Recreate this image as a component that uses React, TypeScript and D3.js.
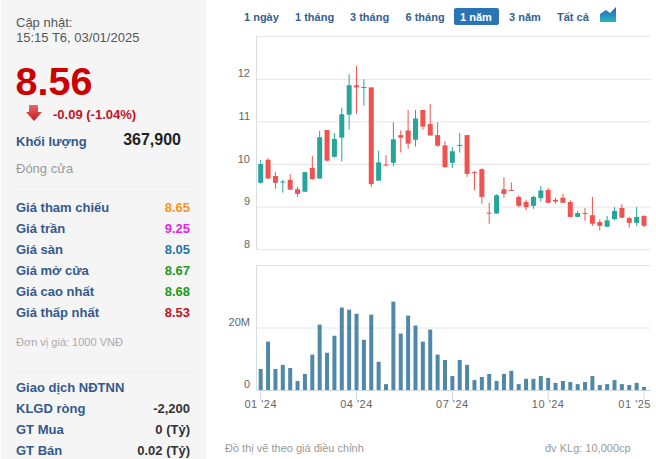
import React from "react";
import * as d3 from "d3";

const opens = [
  9.57, 10.11, 9.73, 9.58, 9.64, 9.42, 9.36, 9.92, 9.67, 10.81, 10.18, 10.63, 11.17,
  11.86, 11.8, 11.81, 9.62, 10.0, 10.04, 10.69, 10.8, 10.58, 11.28, 10.95, 10.69, 10.45,
  10.04, 10.44, 10.69, 9.82, 9.89, 8.87, 8.85, 9.42, 9.4, 9.24, 9.12, 9.03, 9.21,
  9.4, 9.17, 9.22, 9.12, 8.77, 8.86, 8.81, 8.65, 8.54, 8.72, 8.98, 8.74, 8.63, 8.79,
];
const highs = [
  10.11, 10.15, 9.82, 9.64, 9.78, 9.48, 9.82, 10.2, 10.79, 10.81, 10.74, 11.33, 12.12,
  12.31, 12.0, 11.81, 10.32, 10.22, 10.99, 10.8, 11.28, 11.28, 11.28, 11.42, 10.99, 10.55,
  10.41, 10.74, 10.69, 9.85, 9.91, 9.1, 9.3, 9.7, 9.58, 9.28, 9.17, 9.26, 9.5,
  9.45, 9.22, 9.31, 9.16, 8.91, 8.98, 9.24, 8.71, 8.79, 9.0, 9.07, 8.77, 9.0, 8.81,
];
const lows = [
  9.55, 9.66, 9.43, 9.34, 9.41, 9.24, 9.36, 9.64, 9.67, 10.07, 10.16, 10.07, 10.82,
  11.19, 11.38, 9.47, 9.62, 9.96, 9.96, 10.28, 10.37, 10.42, 10.82, 10.68, 10.42, 9.92,
  9.92, 10.28, 9.71, 9.4, 9.08, 8.61, 8.85, 9.22, 9.38, 9.0, 8.92, 8.96, 9.13,
  9.1, 9.08, 9.1, 8.77, 8.77, 8.68, 8.56, 8.45, 8.54, 8.69, 8.75, 8.52, 8.56, 8.53,
];
const closes = [
  10.01, 9.67, 9.57, 9.6, 9.41, 9.31, 9.82, 9.66, 10.64, 10.09, 10.6, 11.18, 11.86,
  11.81, 11.82, 9.54, 10.05, 9.98, 10.59, 10.63, 10.49, 11.08, 10.89, 10.68, 10.44, 9.94,
  10.31, 10.46, 9.78, 9.8, 9.24, 8.85, 9.28, 9.31, 9.38, 9.03, 9.0, 9.24, 9.39,
  9.1, 9.13, 9.1, 8.77, 8.86, 8.84, 8.61, 8.56, 8.69, 8.91, 8.75, 8.63, 8.77, 8.56,
];
const volumes = [
  6.8, 15.6, 6.8, 8.1, 7.1, 2.9, 5.2, 11.4, 21.1, 12.0, 17.5, 26.6, 25.9,
  24.6, 16.2, 24.3, 9.1, 1.9, 28.5, 18.2, 24.0, 20.8, 15.6, 19.5, 11.4, 9.7,
  4.5, 9.7, 8.1, 3.2, 4.2, 5.2, 2.9, 5.2, 6.2, 1.9, 3.6, 3.6, 4.5,
  3.9, 2.3, 2.9, 2.6, 1.9, 2.6, 4.5, 1.6, 1.9, 3.2, 1.9, 1.6, 2.3, 1.0,
];

const priceTicks = [8, 9, 10, 11, 12];
const volumeTicks = [0, 20];
const dateTickWeeks = [0, 13, 26, 39, 52];
const dateTickLabels = ["01 '24", "04 '24", "07 '24", "10 '24", "01 '25"];

const ranges = ["1 ngày", "1 tháng", "3 tháng", "6 tháng", "1 năm", "3 năm", "Tất cả"];
const rangeX = [244, 295, 350, 405.5, 460, 509, 557];

const priceRows = ["Giá tham chiếu", "Giá trần", "Giá sàn", "Giá mở cửa", "Giá cao nhất", "Giá thấp nhất"];
const priceValues = ["8.65", "9.25", "8.05", "8.67", "8.68", "8.53"];
const priceColors = ["#f7941d", "#e81ee8", "#1f77a4", "#1d9a1d", "#1d9a1d", "#c4121f"];

const foreignRows = ["KLGD ròng", "GT Mua", "GT Bán"];
const foreignValues = ["-2,200", "0 (Tỷ)", "0.02 (Tỷ)"];

const font = "'Liberation Sans', Arial, sans-serif";
const blue = "#34598c";
const up = "#26a69a";
const down = "#ef5350";

const App: React.FC = () => {
  const x = d3.scaleLinear().domain([0, 52]).range([260.7, 644]);
  const yPrice = d3.scaleLinear().domain([8, 13]).range([249.7, 36.7]);
  const yVolume = d3.scaleLinear().domain([0, 40]).range([390, 266]);

  return (
    <div style={{ position: "absolute", left: 0, top: 0 }}>
      <svg width={656} height={459} style={{ display: "block", fontFamily: font }}>
        <defs>
          <linearGradient id="arrowFill" x1="0" y1="0" x2="0" y2="1">
            <stop offset="0" stopColor="#e8696b" />
            <stop offset="1" stopColor="#c4161c" />
          </linearGradient>
          <linearGradient id="iconFill" x1="0" y1="0" x2="0" y2="1">
            <stop offset="0" stopColor="#2b5fae" />
            <stop offset="1" stopColor="#25b7c4" />
          </linearGradient>
        </defs>

        {/* left panel */}
        <rect x={1} y={0} width={205} height={459} fill="#f5f5f6" />
        <text x={16} y={27} fontSize={13} fill="#555">Cập nhật:</text>
        <text x={16} y={42} fontSize={13} fill="#555">15:15 T6, 03/01/2025</text>
        <text x={15.5} y={95} fontSize={39.5} fontWeight="bold" fill="#cc0000">8.56</text>
        <path d="M29 105H38V112H42L34 121L26 112H29Z" fill="url(#arrowFill)" />
        <text x={53} y={119} fontSize={13} fontWeight="bold" fill="#c4121f">-0.09 (-1.04%)</text>
        <text x={16} y={146} fontSize={13} fontWeight="bold" fill={blue}>Khối lượng</text>
        <text x={181} y={145} fontSize={16} fontWeight="bold" fill="#222" textAnchor="end">367,900</text>
        <text x={16} y={173} fontSize={13} fill="#999">Đóng cửa</text>
        <line x1={16} x2={192} y1={186.5} y2={186.5} stroke="#ececec" />

        {priceRows.map((label, i) => (
          <g key={label}>
            <text x={16} y={212 + i * 21} fontSize={13} fontWeight="bold" fill={blue}>{label}</text>
            <text x={190} y={212 + i * 21} fontSize={13} fontWeight="bold" fill={priceColors[i]} textAnchor="end">
              {priceValues[i]}
            </text>
          </g>
        ))}

        <text x={16} y={346} fontSize={11} fill="#aaa">Đơn vị giá: 1000 VNĐ</text>
        <line x1={16} x2={192} y1={371.5} y2={371.5} stroke="#ececec" />
        <text x={16} y={392} fontSize={13} fontWeight="bold" fill={blue}>Giao dịch NĐTNN</text>
        {foreignRows.map((label, i) => (
          <g key={label}>
            <text x={16} y={413 + i * 21} fontSize={13} fontWeight="bold" fill={blue}>{label}</text>
            <text x={190} y={413 + i * 21} fontSize={13} fontWeight="bold" fill="#333" textAnchor="end">
              {foreignValues[i]}
            </text>
          </g>
        ))}

        {/* range buttons */}
        <rect x={454} y={8} width={45} height={17} rx={2} fill="#2b74b3" />
        {ranges.map((r, i) => (
          <text key={r} x={rangeX[i]} y={21} fontSize={11} fontWeight="bold" fill={i === 4 ? "#fff" : "#34608f"}>
            {r}
          </text>
        ))}
        <path d="M600 22V14L606 10L610 13L616 7V22Z" fill="url(#iconFill)" />

        {/* price chart */}
        <line x1={256.5} x2={651} y1={36.5} y2={36.5} stroke="#e6e6e6" />
        {priceTicks.map((t) => (
          <g key={t}>
            <line x1={256.5} x2={651} y1={yPrice(t)} y2={yPrice(t)} stroke="#e6e6e6" />
            <text x={250} y={yPrice(t) - 2} fontSize={11} fill="#666" textAnchor="end">{t}</text>
          </g>
        ))}
        <line x1={256.5} x2={256.5} y1={36} y2={250} stroke="#d5dfe8" />
        {opens.map((o, i) => {
          const c = closes[i];
          const color = c >= o ? up : down;
          const top = yPrice(Math.max(o, c));
          const bottom = yPrice(Math.min(o, c));
          return (
            <g key={i}>
              <line x1={x(i)} x2={x(i)} y1={yPrice(highs[i])} y2={yPrice(lows[i])} stroke={color} />
              <rect x={x(i) - 2.5} y={top} width={5} height={Math.max(bottom - top, 1)} fill={color} />
            </g>
          );
        })}

        {/* volume chart */}
        <line x1={256.5} x2={651} y1={265.5} y2={265.5} stroke="#e6e6e6" />
        {volumeTicks.map((t) => (
          <g key={t}>
            {t > 0 && <line x1={256.5} x2={651} y1={yVolume(t)} y2={yVolume(t)} stroke="#e6e6e6" />}
            <text x={250} y={yVolume(t) - 2} fontSize={11} fill="#666" textAnchor="end">
              {t > 0 ? `${t}M` : "0"}
            </text>
          </g>
        ))}
        <line x1={256.5} x2={256.5} y1={265} y2={390} stroke="#d5dfe8" />
        {volumes.map((v, i) => (
          <rect key={i} x={x(i) - 2} y={yVolume(v)} width={4} height={yVolume(0) - yVolume(v)} fill="#5089a8" />
        ))}
        <line x1={256.5} x2={651} y1={390.5} y2={390.5} stroke="#ccd6eb" />
        {dateTickWeeks.map((w, i) => (
          <g key={w}>
            <line x1={x(w)} x2={x(w)} y1={390} y2={400} stroke="#ccd6eb" />
            <text
              x={i === 4 ? 651 : x(w)}
              y={408}
              fontSize={11}
              fill="#666"
              letterSpacing={0.5}
              textAnchor={i === 4 ? "end" : "middle"}
            >
              {dateTickLabels[i]}
            </text>
          </g>
        ))}

        <text x={225} y={452} fontSize={11} fill="#999">Đồ thị vẽ theo giá điều chỉnh</text>
        <text x={545} y={452} fontSize={11} fill="#999">đv KLg: 10,000cp</text>
      </svg>
    </div>
  );
};

export default App;
